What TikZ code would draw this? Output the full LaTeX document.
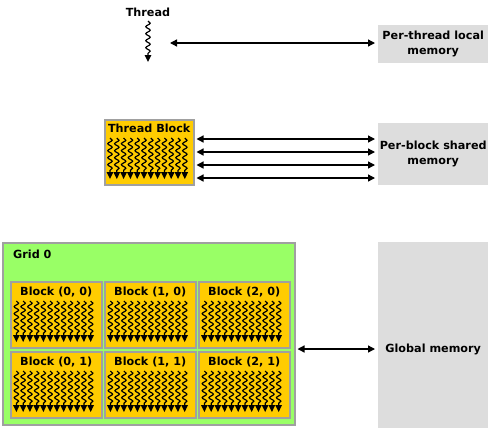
\documentclass[tikz,border=0pt]{standalone}
\usepackage{fontspec}
\setmainfont{DejaVu Sans}
\usetikzlibrary{arrows.meta,positioning,decorations.pathmorphing,calc}
\definecolor{gold}{HTML}{FFCC00}
\definecolor{lime}{HTML}{99FF66}
\definecolor{memgrey}{HTML}{DDDDDD}
\definecolor{edgegrey}{HTML}{A0A0A0}

\tikzset{
  lbl/.style={font=\bfseries\fontsize{11.2}{15}\selectfont,inner sep=0pt},
  blk/.style={rectangle,draw=edgegrey,line width=1.5pt,fill=gold,inner sep=0pt,anchor=north west},
  mem/.style={rectangle,fill=memgrey,inner sep=0pt,anchor=north west,align=center,
    font=\bfseries\fontsize{11.2}{15}\selectfont,minimum width=110pt},
  conn/.style={{Triangle[length=7pt,width=7pt]}-{Triangle[length=7pt,width=7pt]},line width=1.3pt},
  wthread/.pic={
    \draw[line width=1.2pt,decorate,decoration={snake,segment length=7pt,amplitude=2.2pt}] (0,0) -- (0,34);
    \fill (-3.4,34) -- (3.4,34) -- (0,41) -- cycle;
  }
}

\begin{document}
\begin{tikzpicture}[x=1pt,y=-1pt]
\useasboundingbox (0,0) rectangle (494,429);

\node[lbl,anchor=base] (thrlbl) at (148,16) {Thread};
\pic at (148,21) {wthread};
\coordinate (thr) at (148,43);
\node[mem,minimum height=38pt] (ptmem) at (378,25) {Per-thread local\\memory};
\draw[conn,shorten <=22pt,shorten >=3pt] (thr) -- (ptmem.west |- thr);

\node[blk,minimum width=89pt,minimum height=65pt] (tb) at (104,119) {};
\node[lbl,anchor=base] (tblbl) at ([yshift=-13pt]tb.north) {Thread Block};
\foreach \i in {0,...,11}
  \pic at ({104+6+6.8*\i},138) {wthread};
\node[mem,minimum height=62pt] (shmem) at (378,123) {Per-block shared\\memory};
\foreach \y in {139,152,165,178}
  \draw[conn,shorten <=2pt,shorten >=3pt] (tb.east |- 0,\y) -- (shmem.west |- 0,\y);

\node[rectangle,draw=edgegrey,line width=1.5pt,fill=lime,inner sep=0pt,anchor=north west,
  minimum width=292pt,minimum height=182pt] (grid) at (2,242) {};
\node[lbl,anchor=base west] (gridlbl) at (13,258) {Grid 0};
\foreach \c/\r in {0/0,1/0,2/0,0/1,1/1,2/1} {
  \node[blk,minimum width=91pt,minimum height=66pt] (b\c\r) at ({10+94*\c},{281+70*\r}) {};
  \node[lbl,anchor=base] (b\c\r lbl) at ([yshift=-14pt]b\c\r.north) {Block (\c, \r)};
  \foreach \i in {0,...,11}
    \pic at ({10+94*\c+6.4+6.75*\i},{281+70*\r+20}) {wthread};
}
\node[mem,minimum height=186pt] (gmem) at (378,242) {};
\node[lbl] (gmemlbl) at (gmem.center |- 0,349) {Global memory};
\draw[conn,shorten <=2pt,shorten >=3pt] (grid.east |- 0,349) -- (gmem.west |- 0,349);
\end{tikzpicture}
\end{document}
